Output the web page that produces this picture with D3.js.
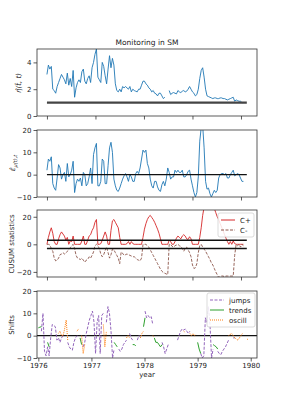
<!DOCTYPE html>
<html>
<head>
<meta charset="utf-8">
<script src="https://cdn.jsdelivr.net/npm/d3@7"></script>
<style>
  body { margin: 0; background: #fff; }
  svg { display: block; font-family: "DejaVu Sans", sans-serif; }
</style>
</head>
<body>
<svg id="chart" width="287" height="410"></svg>
<script>
const _ = null;
// observation index of the samples
const obsIdx = d3.range(0, 811, 6);
const shiftIdx = d3.range(0, 817, 6);
const obsPerYear = 206;

// panel 1: eta hat
const etaVals = [3.1, 3.8, 3.5, 3.7, 2.0, 1.9, 1.7, 2.2, 2.5, 2.8, 3.1, 2.9, 2.7, 2.4, 3.2, 2.3, 2.8,
  2.2, 3.4, 1.4, 2.1, 2.5, 2.7, 2.5, 3.3, 3.5, 2.6, 2.4, 2.8, 3.0, 2.5, 3.6, 4.0, 4.6, 5.0, 2.9, 2.7,
  2.5, 4.0, 3.7, 3.0, 2.4, 3.5, 4.5, 3.6, 4.3, 3.8, 2.4, 1.9, 1.8, 2.0, 1.8, 2.2, 2.1, 2.2, 2.1, 2.0,
  2.2, 1.8, 2.0, 1.9, 1.85, 1.8, 2.0, 2.0, 2.3, 2.6, 2.6, 2.4, 2.3, 2.1, 2.0, 1.8, 1.9, 1.7, 1.65, 1.5,
  1.7, 1.7, 1.5, 1.3, 1.4, _, _, 1.9, 1.6, 1.7, 1.75, 1.7, 1.65, 1.9, 1.8, 1.75, 1.85, 1.9, 1.8,
  1.85, 2.0, 2.2, 2.0, 1.8, 1.7, 1.5, 1.6, 2.0, 2.8, 3.4, 3.6, 2.9, 2.0, 1.5, 1.45, 1.4, 1.35, 1.3,
  1.35, 1.35, 1.3, 1.3, 1.35, 1.35, 1.3, 1.3, 1.25, 1.2, 1.25, 1.3, 1.35, 1.4, 1.1, 1.2, 1.15, 1.1,
  1.1, 1.0, 1.0];

// panel 2: residuals
const epsVals = [2, 7, 6, 8, -4, -6, -7, -1.5, 4.5, 3, -2, 0, 1, -3, 5, -1, 0, 2, 6, -8, -4, -2, -3,
  -1.5, -5, 1, 0, -5, -4, -1, 3, -4, 9, 12, 14, -5, -5, -3, 7, 6, -4, -4, 4, 12, 14.5, 10, -2, -5, -7,
  -7.5, -6, -4, -2, -0.5, 0.5, -1, -3, 0, -1, -3, -3, 0.5, 1.5, 0.5, 3, 7, 11, 10, 11, 5, 3, -2, -5,
  -6, -3, -3, -5.5, -7, -7.5, -4.5, -3, -5, -2, 3, 1, -2, -1, -1, 2, 1, 2, 1, 1, 2, -1, -1, 0, 1.5, 2,
  -2, -5, -8, -10, -8, -1, 15, 21, 22, 12, -3, -6.5, -6, -8.5, -10, -8.5, -7, -8, -7, -1.5, 0, 0.5,
  0.5, 0, 0.5, -1.5, -1.5, 0, 1, 2, -0.5, 0, 0.5, 0, -1.5, -3, -3];

// panel 3: CUSUM statistics
const cPlus = [
  0, 5, 9, 12, 8, 2, 0, 0, 4, 7,
  9, 7.5, 6, 3, 5, 0, 2.5, 2, 6, 0,
  0, 0, 0, 0, 2.5, 6, 0, 0, 3, 6,
  7, 10, 12, 16, 18, 0, 0, 0.5, 3, 6,
  9, 6, 0, 0, 10, 17, 18, 16, 14, 12,
  5, 0, 0, 0, 0, 0.5, 2, 0, 2, 0.5,
  0, 0, 0, 0, 0, 0, 5, 11, 15, 18,
  20, 21, 19.5, 18, 16, 13.5, 11, 8, 4, 0,
  0, 0, 0, 0, 3, 2, 0, 0, 2, 4.5,
  6, 5, 4, 6, 7, 6, 4, 3.5, 5.5, 4,
  0, 0, 0, 0, 0, 5, 12, 21, 27, 30,
  33, 34, 34, 32, 29, 26, 23, 20, 18, 15,
  12.5, 10, 7, 4.5, 2, 0, 2, 0, 2.5, 0.5,
  0, 0, 0, 0, 0, 0];
const cMinus = [
  0, 0, -0.5, -3, -5, -10, -12, -11.5, -10, -7.5,
  -7, -6, -7, -6.5, -5, -4, -2.5, -1, 0, -3,
  -8, -10, -10.5, -11, -10, -11.5, -13, -11.5, -11, -9,
  -10, -8, -5.5, -1, 0, -1, -3, -7, -9, -7.5,
  -4.5, -2, -6, -10, -7.5, -3.5, -4, -6, -8, -10,
  -14, -5.5, -6.5, -8, -7.5, -7, -7.5, -8, -8.5, -9,
  -9, -10, -11, -11.5, -12, -10, 0, 0, 0, -1,
  -2, -4, -6, -8, -10, -12, -14, -16, -18, -19.5,
  -20.5, -21, -21.5, -22, 0, 0, -1.5, -2, -1, -0.5,
  0, -1, -1.5, -3, -5, -3, -2, -4, -6, -9,
  -15, -17.5, -17, -14, -6, -1, 0, -2, -3.5, -5,
  -7, -9, -11, -13.5, -15, -17.5, -20, -22, -24, -23.5,
  -23, -23, -23.5, -23, -23, -23, -23, -23, -23, -8,
  0, -1, 0, -2, 0, -1];
const threshold = 3;

// panel 4: detected shifts by type
const jumps = [
  _, _, 2, 10, -7, -9, -5, -9, -1, 5,
  4.5, 4, -2, -1, -3, -1, 0, _, _, -3,
  -5, -6, -6.5, -3, -1, 0, _, _, _, -5,
  -3, 1, 4, 7, 9, 11, 6, -8, 6, 9,
  -8, 9, 10, _, 6, 13, 10, 2, -10, -6,
  _, _, -6, -7, -6, -4, -3, -2, _, 1,
  -1, -2, _, _, -2, 0, -0.5, _, _, 11,
  8, 9, 8, 8.5, 5, _, _, _, _, _,
  -3, -5, -8, -6, -4, _, _, _, _, _,
  -2, 0, 2, 3, 2.5, 3, 2, 1, 2, _,
  _, _, _, _, _, -8, -10, -9, 8, 6,
  13, 5, -10, -6, _, _, -7, -8, -8.5, -7,
  -6, -5, -3.5, -2, _, _, -1, -1, _, _,
  _, _, _, _, _, _, _];
const trends = [
  3.5, 3.8, 4, _, _, _, -3, -5, _, _,
  _, _, _, _, _, _, _, _, _, _,
  _, _, _, _, _, _, _, -1, -4, _,
  _, _, _, _, _, _, _, _, _, _,
  _, _, _, _, _, _, _, _, _, -3,
  -4, -5, _, _, _, _, _, _, _, _,
  _, -4, -4, -4.5, _, _, _, _, 4, 8,
  _, _, _, _, _, -1, -3, -3, -4, -5,
  -4, _, _, _, _, _, _, _, _, _,
  _, _, _, _, _, _, _, _, _, _,
  _, _, _, -3, -6, -8, _, _, _, _,
  _, _, _, -4, -4.5, -5, -6, _, _, _,
  _, _, _, _, _, _, _, _, _, _,
  _, _, _, _, _, _, _];
const oscill = [
  _, _, _, _, _, _, _, _, _, _,
  _, _, _, 1, 2, 0, 0, 3, 7, -2,
  _, _, _, _, _, 2, 3, _, 0, -8,
  -4, _, _, _, _, _, _, _, _, _,
  _, _, 5, -5, 2, _, _, _, _, _,
  _, _, _, _, _, _, _, -1, 0, -1,
  _, _, _, _, _, _, -1, 1, 2, _,
  _, _, _, _, 0, -0.5, _, _, _, _,
  _, _, _, _, _, _, _, _, _, _,
  _, _, _, _, 2, 1.5, _, _, 1, 0,
  1, 0, 0.5, _, _, _, _, _, _, _,
  _, _, _, _, _, _, _, _, _, _,
  _, _, _, 0, 0.5, 1, 0, -1, -1.5, -2,
  -1, 0, 1, _, _, -1.5, -2];

const svg = d3.select('#chart');
const left = 37, right = 257;
const panels = [
  { top: 49, bottom: 116, domain: [0, 5], ticks: [0, 2, 4] },
  { top: 130, bottom: 197, domain: [-10, 20], ticks: [-10, 0, 10, 20] },
  { top: 210, bottom: 277, domain: [-23.7, 24.9], ticks: [-20, 0, 20] },
  { top: 291, bottom: 358, domain: [-10, 20], ticks: [-10, 0, 10, 20] }
];

const xIdx = d3.scaleLinear().domain([-41, 866]).range([left, right]);
const xYear = d3.scaleLinear().domain([1975.975, 1980.118]).range([left, right]);
const fmt = d => d < 0 ? '\u2212' + Math.abs(d) : String(d);

panels.forEach((p, i) => {
  p.y = d3.scaleLinear().domain(p.domain).range([p.bottom, p.top]);
  p.g = svg.append('g');
  svg.append('clipPath').attr('id', 'clip' + i)
    .append('rect').attr('x', left).attr('y', p.top).attr('width', right - left).attr('height', p.bottom - p.top);
  p.plot = p.g.append('g').attr('clip-path', `url(#clip${i})`);

  const yAxis = d3.axisLeft(p.y).tickValues(p.ticks).tickFormat(fmt).tickSize(3.5).tickPadding(2);
  p.g.append('g').attr('transform', `translate(${left},0)`).call(yAxis);

  const xAxis = i < 3
    ? d3.axisBottom(xIdx).tickValues([0, 200, 400, 600, 800]).tickFormat('')
    : d3.axisBottom(xYear).tickValues([1976, 1977, 1978, 1979, 1980]).tickFormat(d3.format('d'));
  p.g.append('g').attr('transform', `translate(0,${p.bottom})`).call(xAxis.tickSize(3.5).tickPadding(2));

  p.g.selectAll('.domain').remove();
  p.g.selectAll('.tick line').attr('stroke', '#333').attr('stroke-width', 0.8);
  p.g.selectAll('.tick text').attr('font-size', 7).attr('fill', '#222').attr('font-family', 'DejaVu Sans');
});

function drawLine(p, xs, vals, color, width, dash) {
  const pts = xs.map((x, i) => [x, vals[i]]);
  const line = d3.line().defined(d => d[1] != null).x(d => d[0]).y(d => p.y(d[1]));
  p.plot.append('path').datum(pts)
    .attr('d', line).attr('fill', 'none')
    .attr('stroke', color).attr('stroke-width', width)
    .attr('stroke-linejoin', 'round')
    .attr('stroke-dasharray', dash || null);
}

function hLine(p, x0, x1, v, color, width) {
  p.plot.append('line')
    .attr('x1', x0).attr('x2', x1)
    .attr('y1', p.y(v)).attr('y2', p.y(v))
    .attr('stroke', color).attr('stroke-width', width);
}

const xObs = obsIdx.map(i => xIdx(i));
const xBot = shiftIdx.map(i => xYear(1976 + i / obsPerYear));
const [p1, p2, p3, p4] = panels;

// panel 1
drawLine(p1, xObs, etaVals, '#1f77b4', 0.9);
hLine(p1, xIdx(0), xIdx(824), 1, '#444', 2.2);

// panel 2
drawLine(p2, xObs, epsVals, '#1f77b4', 0.9);
hLine(p2, xIdx(0), xIdx(824), 0, '#111', 1.4);

// panel 3
drawLine(p3, xObs, cPlus, '#d62728', 0.9);
drawLine(p3, xObs, cMinus, '#8c564b', 0.9, '3,1.5');
hLine(p3, xIdx(0), xIdx(824), threshold, '#111', 1.4);
hLine(p3, xIdx(0), xIdx(824), -threshold, '#111', 1.4);

// panel 4
hLine(p4, left, right, 0, '#111', 1.4);
drawLine(p4, xBot, jumps, '#9467bd', 1, '3,1.5');
drawLine(p4, xBot, trends, '#2ca02c', 1);
drawLine(p4, xBot, oscill, '#ff7f0e', 1, '1,1');

// frames
panels.forEach(p => {
  p.g.append('rect').attr('x', left).attr('y', p.top)
    .attr('width', right - left).attr('height', p.bottom - p.top)
    .attr('fill', 'none').attr('stroke', '#333').attr('stroke-width', 0.8);
});

// legends
function legend(p, x, y, w, items) {
  const rowH = 10;
  const lg = p.g.append('g');
  lg.append('rect').attr('x', x).attr('y', y).attr('width', w).attr('height', items.length * rowH + 4)
    .attr('rx', 2).attr('fill', 'rgba(255,255,255,0.85)').attr('stroke', '#ccc').attr('stroke-width', 0.7);
  items.forEach((it, i) => {
    const cy = y + 7 + i * rowH;
    lg.append('line').attr('x1', x + 3).attr('x2', x + 17).attr('y1', cy).attr('y2', cy)
      .attr('stroke', it.color).attr('stroke-width', 1).attr('stroke-dasharray', it.dash || null);
    lg.append('text').attr('x', x + 22).attr('y', cy + 2.5).attr('font-size', 7).attr('fill', '#222').text(it.label);
  });
}
legend(p3, 218, 213, 36, [
  { label: 'C+', color: '#d62728' },
  { label: 'C-', color: '#8c564b', dash: '3,1.5' }
]);
legend(p4, 207, 293, 48, [
  { label: 'jumps', color: '#9467bd', dash: '3,1.5' },
  { label: 'trends', color: '#2ca02c' },
  { label: 'oscill', color: '#ff7f0e', dash: '1,1' }
]);

// title and axis labels
svg.append('text').attr('x', (left + right) / 2).attr('y', 45).attr('text-anchor', 'middle')
  .attr('font-size', 7.5).attr('fill', '#222').text('Monitoring in SM');
svg.append('text').attr('x', (left + right) / 2).attr('y', 377).attr('text-anchor', 'middle')
  .attr('font-size', 7).attr('fill', '#222').text('year');

function yLabel(x, y, build) {
  const t = svg.append('text').attr('transform', `translate(${x},${y}) rotate(-90)`)
    .attr('text-anchor', 'middle').attr('font-size', 7).attr('fill', '#222');
  build(t);
}
yLabel(21, 83, t => {
  t.append('tspan').attr('font-style', 'italic').text('\u03B7\u0302(t\u0302, t)');
});
yLabel(15, 163, t => {
  t.append('tspan').attr('font-style', 'italic').text('\u03B5\u0302');
  t.append('tspan').attr('font-style', 'italic').attr('font-size', 5).attr('dy', 1.5).text('\u03BC(t),t');
});
yLabel(14, 244, t => t.text('CUSUM statistics'));
yLabel(14, 325, t => t.text('Shifts'));
</script>
</body>
</html>
